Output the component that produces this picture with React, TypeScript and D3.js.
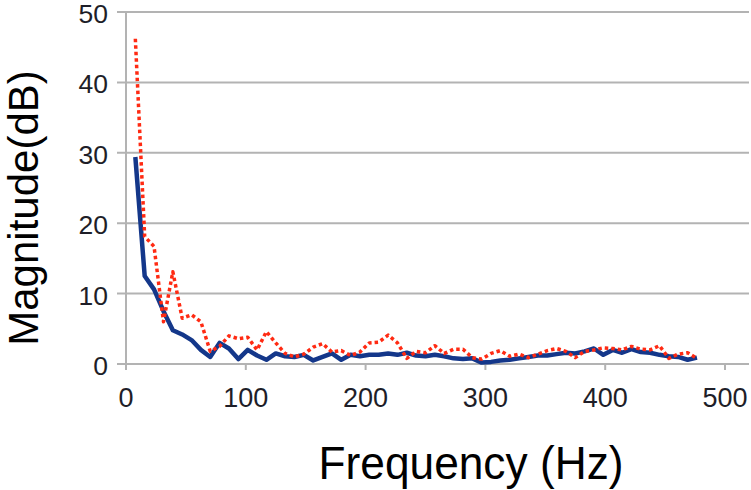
import { useMemo } from "react";
import * as d3 from "d3";

const WIDTH = 751;
const HEIGHT = 490;

// frequency bins (Hz)
const frequencies = [
  7.8, 15.6, 23.4, 31.3, 39.1, 46.9, 54.7, 62.5, 70.3, 78.1,
  85.9, 93.8, 101.6, 109.4, 117.2, 125, 132.8, 140.6, 148.4, 156.3,
  164.1, 171.9, 179.7, 187.5, 195.3, 203.1, 210.9, 218.8, 226.6, 234.4,
  242.2, 250, 257.8, 265.6, 273.4, 281.3, 289.1, 296.9, 304.7, 312.5,
  320.3, 328.1, 335.9, 343.8, 351.6, 359.4, 367.2, 375, 382.8, 390.6,
  398.4, 406.3, 414.1, 421.9, 429.7, 437.5, 445.3, 453.1, 460.9, 468.8,
  476.6,
];

// solid navy series
const blueValues = [
  29.4, 12.5, 10.6, 7.5, 4.8, 4.2, 3.4, 2.0, 1.0, 3.0,
  2.2, 0.7, 2.0, 1.2, 0.6, 1.5, 1.1, 1.0, 1.3, 0.5,
  1.0, 1.5, 0.6, 1.3, 1.1, 1.3, 1.3, 1.5, 1.3, 1.6,
  1.2, 1.1, 1.3, 1.1, 0.8, 0.7, 0.8, 0.2, 0.3, 0.5,
  0.6, 0.8, 1.0, 1.2, 1.2, 1.4, 1.6, 1.5, 1.8, 2.2,
  1.3, 2.0, 1.6, 2.1, 1.7, 1.6, 1.3, 1.1, 1.0, 0.6,
  0.9,
];

// dotted red series
const redValues = [
  46.2, 18.1, 16.7, 6.0, 13.1, 6.5, 7.0, 6.0, 1.8, 2.5,
  4.0, 3.6, 3.8, 2.0, 4.6, 3.0, 1.5, 1.0, 1.4, 2.4,
  2.9, 1.7, 1.9, 1.2, 1.7, 3.0, 3.1, 4.1, 3.0, 0.8,
  1.8, 1.6, 2.6, 1.5, 2.1, 2.1, 0.9, 0.7, 1.5, 1.9,
  1.1, 1.4, 0.9, 1.4, 1.9, 2.2, 1.8, 0.9, 1.8, 2.0,
  2.3, 2.2, 2.0, 2.5, 2.1, 2.0, 2.6, 0.8, 1.4, 1.6,
  0.8,
];

const xTicks = [0, 100, 200, 300, 400, 500];
const yTicks = [0, 10, 20, 30, 40, 50];

const GRID = "#b3b3b3";
const TEXT = "#1e1e28";
const FONT = "'Liberation Sans', Arial, sans-serif";

export default function App() {
  const xScale = useMemo(
    () => d3.scaleLinear().domain([0, 500]).range([126, 725]),
    []
  );
  const yScale = useMemo(
    () => d3.scaleLinear().domain([0, 50]).range([364, 12]),
    []
  );

  const line = d3
    .line<number>()
    .x((_, i) => xScale(frequencies[i]))
    .y((d) => yScale(d));

  const x0 = xScale(0);
  const y0 = yScale(0);

  return (
    <div style={{ position: "absolute", left: 0, top: 0 }}>
      <svg width={WIDTH} height={HEIGHT} style={{ display: "block", background: "#fff" }}>
        {/* horizontal gridlines */}
        {yTicks.map((t) => (
          <line
            key={"g" + t}
            x1={x0 - 9}
            x2={749}
            y1={yScale(t)}
            y2={yScale(t)}
            stroke={GRID}
            strokeWidth={2}
          />
        ))}
        {/* y axis line */}
        <line x1={x0} x2={x0} y1={yScale(50)} y2={y0 + 5} stroke={GRID} strokeWidth={2} />
        {/* x ticks */}
        {xTicks.map((t) => (
          <line
            key={"xt" + t}
            x1={xScale(t)}
            x2={xScale(t)}
            y1={y0}
            y2={y0 + 6}
            stroke={GRID}
            strokeWidth={2}
          />
        ))}

        {/* y tick labels */}
        {yTicks.map((t) => (
          <text
            key={"yl" + t}
            x={108}
            y={yScale(t) + 11}
            textAnchor="end"
            fontFamily={FONT}
            fontSize={26.5}
            fill={TEXT}
          >
            {t}
          </text>
        ))}
        {/* x tick labels */}
        {xTicks.map((t) => (
          <text
            key={"xl" + t}
            x={xScale(t)}
            y={407}
            textAnchor="middle"
            fontFamily={FONT}
            fontSize={27}
            fill={TEXT}
          >
            {t}
          </text>
        ))}

        {/* series */}
        <path
          d={line(blueValues) ?? ""}
          fill="none"
          stroke="#14378a"
          strokeWidth={4.5}
          strokeLinejoin="round"
        />
        <path
          d={line(redValues) ?? ""}
          fill="none"
          stroke="#ff2a12"
          strokeWidth={3.5}
          strokeDasharray="3.5,3"
          strokeLinejoin="round"
        />

        {/* axis titles */}
        <text
          x={471}
          y={479}
          textAnchor="middle"
          fontFamily={FONT}
          fontSize={46}
          textLength={305}
          lengthAdjust="spacingAndGlyphs"
          fill="#000"
        >
          Frequency (Hz)
        </text>
        <text
          transform="translate(38, 208) rotate(-90)"
          textAnchor="middle"
          fontFamily={FONT}
          fontSize={42}
          fill="#000"
        >
          Magnitude(dB)
        </text>
      </svg>
    </div>
  );
}
